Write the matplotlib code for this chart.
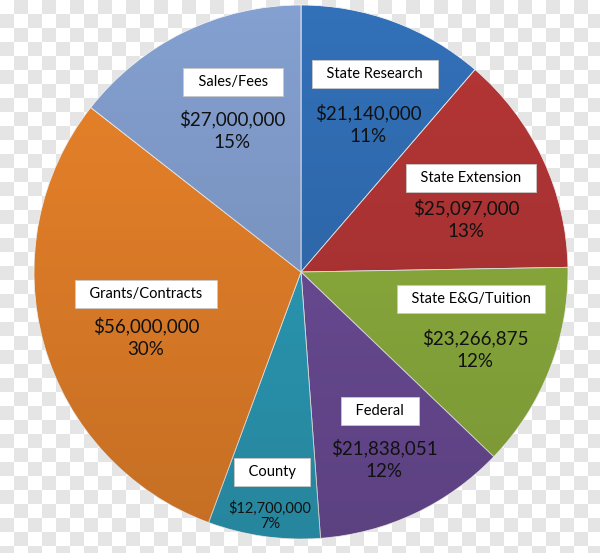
import matplotlib
matplotlib.use('Agg')
import matplotlib.pyplot as plt
from matplotlib.patches import Circle
import numpy as np

plt.rcParams['font.family'] = ['Lato', 'DejaVu Sans']

# data (clockwise from 12 o'clock)
labels = ['State Research', 'State Extension', 'State E&G/Tuition', 'Federal',
          'County', 'Grants/Contracts', 'Sales/Fees']
values = [21140000, 25097000, 23266875, 21838051, 12700000, 56000000, 27000000]
percents = ['11%', '13%', '12%', '12%', '7%', '30%', '15%']
colors = ['#3270b8', '#b63636', '#90b23f', '#6e4e9a', '#2d9fbb', '#ea832a', '#84a0d0']

# label spots in pixel coords from top-left (box centre, value block centre)
box_pos = [(375, 74), (471, 178), (471, 299), (380, 411), (272, 472), (146, 294), (233, 82)]
val_pos = [(368, 124), (466, 219), (475, 349), (384, 459), (270, 516), (146, 337), (232, 130)]

W, H = 600, 553
cx, cy, r = 301, H - 272, 267

fig = plt.figure(figsize=(6, 5.53), dpi=100)

# transparency checkerboard behind the pie, drawn straight in pixels
sq = 14
yy, xx = np.mgrid[0:H, 0:W]
cells = ((yy // sq + xx // sq) % 2).astype(float)
board = np.ones((H, W, 3))
board[cells == 1] = 0.9
fig.figimage(board, xo=0, yo=0, origin='upper', zorder=-5)

ax = fig.add_axes([0, 0, 1, 1])
ax.patch.set_alpha(0)
wedges, _ = ax.pie(values, colors=colors, startangle=90, counterclock=False,
                   center=(cx, cy), radius=r, frame=True,
                   wedgeprops=dict(linewidth=0.6, edgecolor='#f2f2f2'))
for w in wedges:
    w.set_zorder(1)

# soft top-to-bottom shading like the original
shade = np.zeros((200, 1, 4))
shade[:, 0, 3] = np.linspace(0.0, 0.16, 200)
im = ax.imshow(shade, extent=(cx - r, cx + r, cy - r, cy + r), aspect='auto', zorder=2)
im.set_clip_path(Circle((cx, cy), r, transform=ax.transData))

ax.set_xlim(0, W)
ax.set_ylim(0, H)
ax.set_aspect('equal')
ax.axis('off')

for i, lab in enumerate(labels):
    bx, by = box_pos[i]
    ax.text(bx, H - by, '  ' + lab + '  ', ha='center', va='center', fontsize=10.5,
            color='black', zorder=3,
            bbox=dict(boxstyle='square,pad=0.5', facecolor='white', edgecolor='#c8c8c8',
                      linewidth=0.6))
    vx, vy = val_pos[i]
    fs = 10.5 if lab == 'County' else 13.5
    gap = 1.15 if lab == 'County' else 1.4
    ax.text(vx, H - vy, '${:,}\n{}'.format(values[i], percents[i]), ha='center',
            va='center', fontsize=fs, color='#111111', zorder=3, linespacing=gap)

fig.savefig('out.png', dpi=100)
